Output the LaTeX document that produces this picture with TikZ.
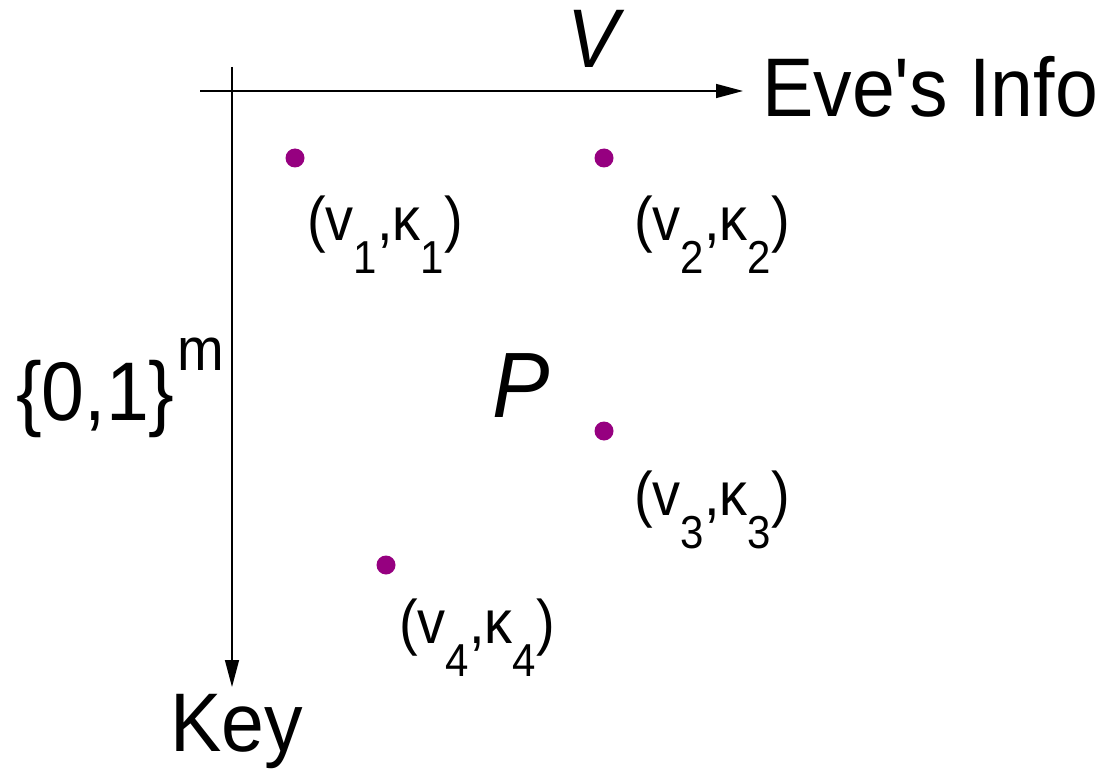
\documentclass[tikz,border=0pt]{standalone}
\usepackage{fontspec}
\setmainfont{Liberation Sans}
\usetikzlibrary{arrows.meta}
\definecolor{dotpurple}{RGB}{150,0,128}
\newcommand{\fs}[1]{\fontsize{#1}{#1}\selectfont}
\newcommand{\tall}[1]{\scalebox{1}[1.08]{#1}}
\newcommand{\lowsub}[1]{\raisebox{-30pt}{\fs{42}#1}}
\tikzset{
  axis/.style={line width=1.5pt,-{Triangle[length=27pt,width=14pt]}},
  pt/.style={circle,fill=dotpurple,inner sep=0pt,minimum size=19pt},
  lab/.style={anchor=base west,inner sep=0pt,font=\fs{56}},
  big/.style={inner sep=0pt,font=\fs{77}}
}
\begin{document}
\begin{tikzpicture}[x=1pt,y=-1pt]
\useasboundingbox (0,0) rectangle (1105,770);
% axes
\coordinate (hs) at (200,91);
\coordinate (he) at (743,91);
\coordinate (vs) at (232,67);
\coordinate (ve) at (232,687);
\draw[axis] (hs) -- (he);
\draw[axis] (vs) -- (ve);
% axis labels
\node[big,anchor=base] (V) at (593,68) {\tall{\itshape V}};
\node[big,anchor=base west] (eve) at (762,117) {\tall{Eve\textquotesingle s Info}};
\node[big,anchor=base west] (key) at (170,751) {\tall{Key}};
\node[big,anchor=base west] (set) at (16,420) {\tall{\{0,1\}}};
\node[inner sep=0pt,anchor=base west,font=\fs{56}] (m) at (177,370) {\tall{m}};
\node[inner sep=0pt,anchor=base,font=\fs{86}] (P) at (521,417) {\tall{\itshape P}};
% points
\node[pt] (d1) at (295,158) {};
\node[pt] (d2) at (604,158) {};
\node[pt] (d3) at (604,431) {};
\node[pt] (d4) at (386,565) {};
% point labels
\node[lab] (l1) at (307,240) {\scalebox{1}[1.1]{(v\lowsub{1},κ\lowsub{1})}};
\node[lab] (l2) at (634,240) {\scalebox{1}[1.1]{(v\lowsub{2},κ\lowsub{2})}};
\node[lab] (l3) at (634,515) {\scalebox{1}[1.1]{(v\lowsub{3},κ\lowsub{3})}};
\node[lab] (l4) at (399,643) {\scalebox{1}[1.1]{(v\lowsub{4},κ\lowsub{4})}};
\end{tikzpicture}
\end{document}
